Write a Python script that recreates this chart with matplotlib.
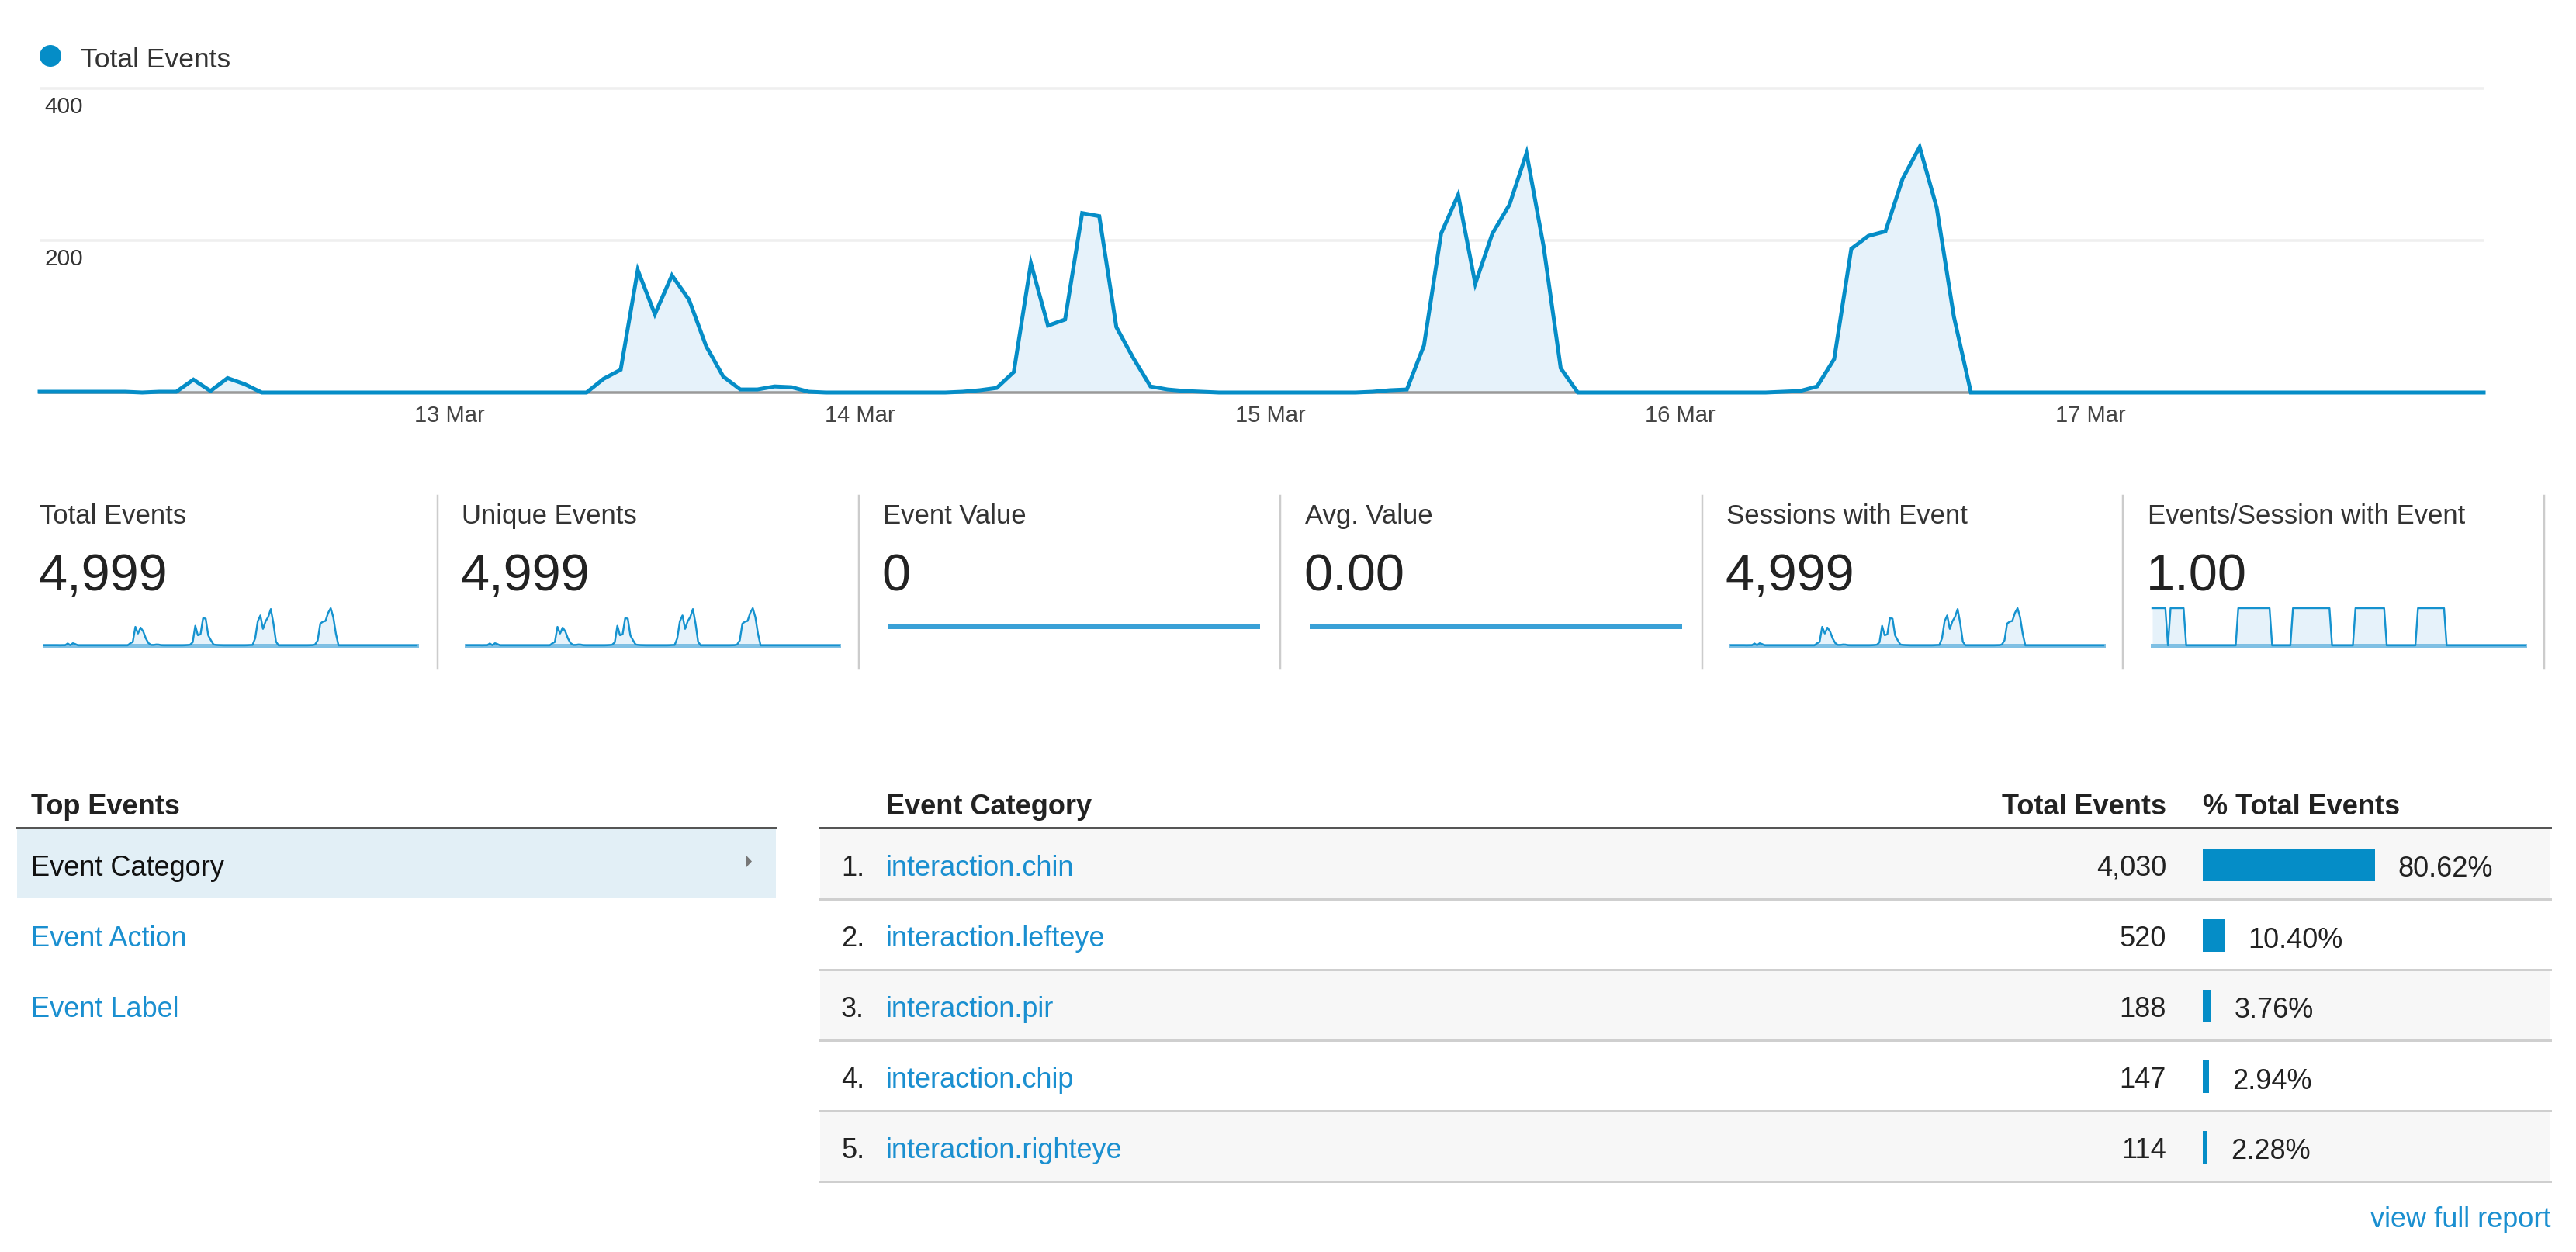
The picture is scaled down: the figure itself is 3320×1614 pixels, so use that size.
import numpy as np
import matplotlib
matplotlib.use("Agg")
import matplotlib.pyplot as plt
from matplotlib.patches import Rectangle, Circle, Polygon

plt.rcParams['font.family'] = ['Liberation Sans', 'DejaVu Sans']

# ---------------- data ----------------
# hourly Total Events, 12 Mar 00:00 .. 17 Mar 23:00
day_12 = [1, 1, 1, 1, 1, 1, 0, 1, 1, 17, 2, 19, 11, 0, 0, 0, 0, 0, 0, 0, 0, 0, 0, 0]
day_13 = [0, 0, 0, 0, 0, 0, 0, 0, 0, 18, 30, 161, 103, 154, 122, 61, 21, 4, 4, 8, 7, 1, 0, 0]
day_14 = [0, 0, 0, 0, 0, 0, 1, 3, 6, 27, 170, 88, 96, 236, 232, 86, 45, 8, 4, 2, 1, 0, 0, 0]
day_15 = [0, 0, 0, 0, 0, 0, 1, 3, 4, 62, 209, 260, 143, 209, 247, 315, 192, 32, 0, 0, 0, 0, 0, 0]
day_16 = [0, 0, 0, 0, 0, 0, 1, 2, 8, 44, 189, 206, 212, 281, 323, 243, 100, 0, 0, 0, 0, 0, 0, 0]
day_17 = [0] * 24

total_events = np.array(day_12 + day_13 + day_14 + day_15 + day_16 + day_17, dtype=float)
hours = np.arange(len(total_events))

date_ticks = [24, 48, 72, 96, 120]
date_labels = ["13 Mar", "14 Mar", "15 Mar", "16 Mar", "17 Mar"]
y_ticks = [200, 400]
y_tick_labels = ["200", "400"]

legend_label = "Total Events"

# scorecards
metric_names = ["Total Events", "Unique Events", "Event Value", "Avg. Value",
                "Sessions with Event", "Events/Session with Event"]
metric_values = ["4,999", "4,999", "0", "0.00", "4,999", "1.00"]
unique_events = total_events.copy()          # same totals (4,999)
event_value = np.zeros_like(total_events)
avg_value = np.zeros_like(total_events)
sessions_with_event = total_events.copy()    # same totals (4,999)
events_per_session = np.divide(total_events, sessions_with_event,
                               out=np.zeros_like(total_events),
                               where=sessions_with_event > 0)
spark_series = [total_events, unique_events, event_value, avg_value,
                sessions_with_event, events_per_session]

# top events
left_items = ["Event Category", "Event Action", "Event Label"]
categories = ["interaction.chin", "interaction.lefteye", "interaction.pir",
              "interaction.chip", "interaction.righteye"]
cat_totals = [4030, 520, 188, 147, 114]
cat_pct = [80.62, 10.40, 3.76, 2.94, 2.28]

# ---------------- styling ----------------
BLUE = '#058dc7'
FILL = '#e6f2fa'
LINK = '#1a8fd0'
W, H = 3320, 1615
PX = 72 / 100.0  # points per pixel

fig = plt.figure(figsize=(W / 100, H / 100), dpi=100)
fig.patch.set_facecolor('white')


def px_axes(x0, y0, x1, y1, z=1):
    a = fig.add_axes([x0 / W, 1 - y1 / H, (x1 - x0) / W, (y1 - y0) / H])
    a.set_zorder(z)
    a.patch.set_alpha(0)
    return a


# overlay in pixel coordinates
ov = px_axes(0, 0, W, H, z=0)
ov.set_xlim(0, W)
ov.set_ylim(H, 0)
ov.axis('off')

# ---------------- main chart ----------------
top_px, bot_px, y400_px = 100, 507, 115
ymax = 400 * (bot_px - top_px) / (bot_px - y400_px)
ax = px_axes(51, top_px, 3201, bot_px, z=2)
ax.set_xlim(hours[0], hours[-1])
ax.set_ylim(0, ymax)
ax.fill_between(hours, 0, total_events, color=FILL, lw=0, zorder=1)
ax.axhline(0, color='#9a9a9a', lw=3.5 * PX, zorder=2, clip_on=False)
ax.plot(hours, total_events, color=BLUE, lw=5 * PX, zorder=3, clip_on=False,
        solid_joinstyle='miter')
for s in ax.spines.values():
    s.set_visible(False)
ax.set_yticks(y_ticks)
ax.yaxis.grid(True, color='#efefef', lw=3.5 * PX)
ax.set_axisbelow(True)
ax.tick_params(axis='y', length=0, labelleft=False)
ax.set_xticks(date_ticks)
ax.set_xticklabels(date_labels, fontsize=21, color='#444444')
ax.tick_params(axis='x', length=0, pad=11)
for v, lab in zip(y_ticks, y_tick_labels):
    ax.annotate(lab, xy=(0, v), xycoords=ax.get_yaxis_transform(),
                xytext=(6, -31), textcoords='offset pixels',
                fontsize=21.5, color='#333333', va='baseline', ha='left')

# legend
ov.add_patch(Circle((65, 73), 14, color=BLUE, lw=0))
ov.text(104, 87, legend_label, fontsize=25.5, color='#333333', va='baseline', ha='left')

# ---------------- scorecards ----------------
col_x = [51, 595, 1138, 1682, 2225, 2768]
sep_x = [564, 1107, 1650, 2194, 2736, 3279]
for sx in sep_x:
    ov.plot([sx, sx], [640, 863], color='#cccccc', lw=2.5 * PX)
for i, (name, val, ser) in enumerate(zip(metric_names, metric_values, spark_series)):
    cx = col_x[i]
    ov.text(cx, 675, name, fontsize=25, color='#333333', va='baseline', ha='left')
    ov.text(cx - 2, 762, val, fontsize=48, color='#222222', va='baseline', ha='left')
    sa = px_axes(cx + 6, 785, cx + 486, 833, z=2)
    sa.axis('off')
    sa.set_xlim(hours[0], hours[-1])
    if ser.max() > 0:
        sa.set_ylim(0, ser.max())
        sa.fill_between(hours, 0, ser, color=FILL, lw=0)
        sa.axhline(0, color='#7fc0e4', lw=5 * PX, clip_on=False)
        sa.plot(hours, ser, color='#1592cf', lw=2.4 * PX, clip_on=False)
    else:
        sa.set_ylim(-1, 1)
        sa.plot(hours, ser, color='#3aa1d7', lw=6 * PX, clip_on=False,
                solid_capstyle='butt')

# ---------------- left table ----------------
ov.text(40, 1050, "Top Events", fontsize=26, fontweight='bold', color='#222222',
        va='baseline', ha='left')
ov.plot([22, 1000], [1068, 1068], color='#555555', lw=3 * PX)
ov.add_patch(Rectangle((22, 1070), 978, 89, color='#e2eff6', lw=0))
for j, item in enumerate(left_items):
    ov.text(40, 1129 + 91 * j, item, fontsize=26,
            color='#111111' if j == 0 else LINK, va='baseline', ha='left')
ov.add_patch(Polygon([[961, 1103], [961, 1120], [969, 1111.5]], closed=True,
                     color='#777777', lw=0))

# ---------------- right table ----------------
tx0, tx1 = 1057, 3287
ov.text(1142, 1050, "Event Category", fontsize=26, fontweight='bold', color='#222222',
        va='baseline', ha='left')
ov.text(2792, 1050, "Total Events", fontsize=26, fontweight='bold', color='#222222',
        va='baseline', ha='right')
ov.text(2839, 1050, "% Total Events", fontsize=26, fontweight='bold', color='#222222',
        va='baseline', ha='left')
ov.plot([tx0, tx1], [1068, 1068], color='#555555', lw=3 * PX)
row_h = 91
for i, (cat, tot) in enumerate(zip(categories, cat_totals)):
    rt = 1070 + row_h * i
    if i % 2 == 0:
        ov.add_patch(Rectangle((tx0, rt), tx1 - tx0, row_h - 2, color='#f7f7f7', lw=0))
    ov.plot([tx0, tx1], [rt + row_h - 1, rt + row_h - 1], color='#cfcfcf', lw=3 * PX)
    base = rt + 59
    ov.text(1084, base, f"{i + 1}.", fontsize=26, color='#222222', va='baseline', ha='left')
    ov.text(1142, base, cat, fontsize=26, color=LINK, va='baseline', ha='left')
    ov.text(2792, base, f"{tot:,}", fontsize=26, color='#222222', va='baseline', ha='right')

ba = px_axes(2839, 1070, 2839 + 275, 1070 + 5 * row_h, z=2)
ba.axis('off')
ba.set_xlim(0, 100)
ba.set_ylim(len(categories), 0)
ba.barh(np.arange(len(categories)) + 0.5, cat_pct, height=42 / row_h, color=BLUE,
        left=0)
for i, p in enumerate(cat_pct):
    ba.annotate(f"{p:.2f}%", xy=(p, i + 0.5), xytext=(30, -15),
                textcoords='offset pixels', fontsize=26, color='#222222',
                va='baseline', ha='left', annotation_clip=False)

ov.text(3287, 1582, "view full report", fontsize=26, color=LINK, va='baseline', ha='right')

fig.savefig("out.png", dpi=100, facecolor='white')
